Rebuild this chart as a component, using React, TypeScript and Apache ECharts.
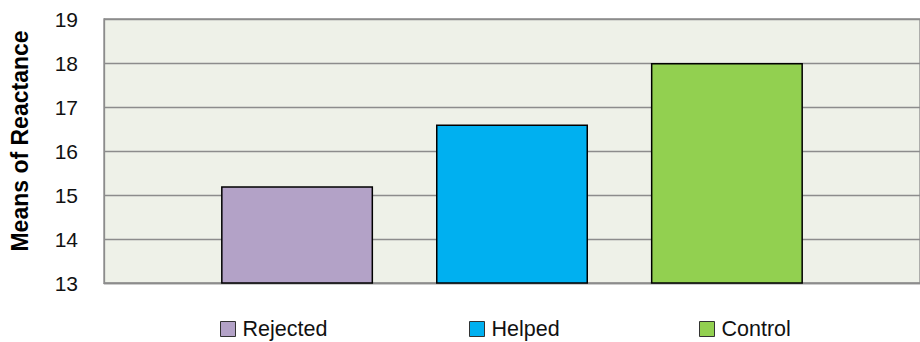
import React, { useEffect, useRef } from "react";
import * as echarts from "echarts";

const groups = ["Rejected", "Helped", "Control"];
const means = [15.2, 16.6, 18.0];
const colors = ["#B3A2C7", "#00B0F0", "#92D050"];
const legendLeft = [220, 469, 699];
const yTicks = { min: 13, max: 19, interval: 1 };
const yTitle = "Means of Reactance";

const FONT = "'Liberation Sans', Arial, sans-serif";

export default function App() {
  const ref = useRef<HTMLDivElement>(null);

  useEffect(() => {
    if (!ref.current) return;
    const chart = echarts.init(ref.current, undefined, { renderer: "svg" });

    const series = groups.map((name, i) => ({
      name,
      type: "bar" as const,
      data: [means[i]],
      barWidth: 152,
      barGap: "41.4%",
      itemStyle: { color: colors[i], borderColor: "#000", borderWidth: 1.5 },
    }));

    // one legend per group so each entry sits under its own bar slot
    const legends = groups.map((name, i) => ({
      show: true,
      data: [{ name, icon: "rect" }],
      left: legendLeft[i],
      top: 318,
      orient: "horizontal" as const,
      itemWidth: 15,
      itemHeight: 15,
      itemStyle: { borderColor: "#333", borderWidth: 1 },
      textStyle: {
        fontFamily: FONT,
        fontSize: 21.5,
        lineHeight: 16,
        color: "#111",
        padding: [0, 0, 0, 2],
      },
      padding: 0,
      selectedMode: false,
    }));

    chart.setOption({
      animation: false,
      grid: {
        show: true,
        left: 104,
        top: 19,
        width: 826,
        height: 264,
        backgroundColor: "#EEF1E8",
        borderColor: "#8C8C8C",
        borderWidth: 1.3,
      },
      xAxis: {
        type: "category",
        data: [""],
        axisLine: { show: true, lineStyle: { color: "#8C8C8C", width: 1.3 } },
        axisTick: { show: false },
        axisLabel: { show: false },
      },
      yAxis: {
        type: "value",
        min: yTicks.min,
        max: yTicks.max,
        interval: yTicks.interval,
        axisLine: { show: true, lineStyle: { color: "#8C8C8C", width: 1.3 } },
        axisTick: { show: false },
        splitLine: { lineStyle: { color: "#8C8C8C", width: 1.3 } },
        axisLabel: { fontFamily: FONT, fontSize: 21, color: "#111", margin: 26 },
      },
      legend: legends,
      graphic: [
        {
          type: "text",
          x: 20,
          y: 141,
          rotation: Math.PI / 2,
          style: {
            text: yTitle,
            fontFamily: FONT,
            fontSize: 23,
            fontWeight: "bold",
            fill: "#000",
            align: "center",
            verticalAlign: "middle",
          },
        },
      ],
      series,
    });

    return () => chart.dispose();
  }, []);

  return (
    <div
      ref={ref}
      style={{ position: "fixed", left: 0, top: 0, width: 920, height: 342, background: "#fff" }}
    />
  );
}
